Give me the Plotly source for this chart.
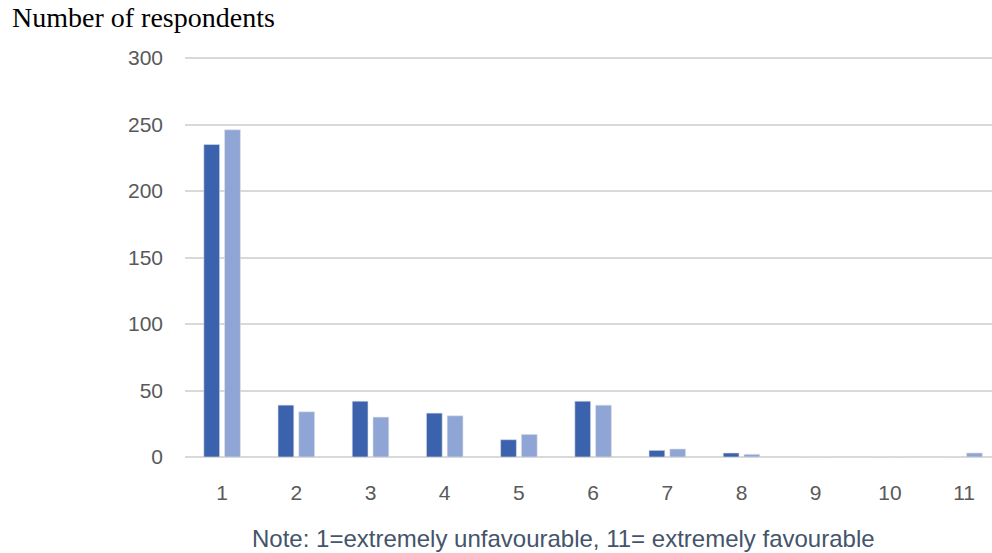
import plotly.graph_objects as go

categories = [1, 2, 3, 4, 5, 6, 7, 8, 9, 10, 11]
series_a = [235, 39, 42, 33, 13, 42, 5, 3, 0, 0, 0]
series_b = [246, 34, 30, 31, 17, 39, 6, 2, 0, 0, 3]
y_ticks = [0, 50, 100, 150, 200, 250, 300]

W, H = 992, 553
L, R, T, B = 185, 0, 55, 96
PW, PH = W - L - R, H - T - B
PX_PER_UNIT = 1.33

fig = go.Figure()
fig.add_trace(go.Bar(x=categories, y=series_a, marker=dict(color="#3B63AD", line=dict(color="#E0E0E0", width=0.6)), showlegend=False))
fig.add_trace(go.Bar(x=categories, y=series_b, marker=dict(color="#8FA5D5", line=dict(color="#E0E0E0", width=0.6)), showlegend=False))

fig.update_layout(
    width=W, height=H,
    margin=dict(l=L, r=R, t=T, b=B),
    paper_bgcolor="white", plot_bgcolor="white",
    barmode="group", bargap=0.44, bargroupgap=0.24,
    xaxis=dict(
        range=[0.5, 0.5 + PW / 74.2], tickmode="array", tickvals=categories,
        ticktext=[str(c) for c in categories],
        tickfont=dict(family="Liberation Sans, Arial", size=21, color="#595959"),
        showgrid=False, zeroline=False, showline=False,
        ticklabelstandoff=21,
    ),
    yaxis=dict(
        range=[0, PH / PX_PER_UNIT], tickmode="array", tickvals=y_ticks,
        tickfont=dict(family="Liberation Sans, Arial", size=21, color="#595959"),
        showgrid=True, gridcolor="#D9D9D9", gridwidth=1.5,
        zeroline=True, zerolinecolor="#D9D9D9", zerolinewidth=1.5,
        ticklabelstandoff=21,
    ),
    annotations=[
        dict(text="Number of respondents", xref="paper", yref="paper",
             x=(10 - L) / PW, y=1 + (T - 18) / PH, xanchor="left", yanchor="middle",
             showarrow=False,
             font=dict(family="Liberation Serif, Times New Roman", size=28, color="black")),
        dict(text="Note: 1=extremely unfavourable, 11= extremely favourable", xref="paper", yref="paper",
             x=(563 - L) / PW, y=-(538 - (H - B)) / PH, xanchor="center", yanchor="middle",
             showarrow=False,
             font=dict(family="Liberation Sans, Arial", size=24, color="#44546A")),
    ],
)
fig.write_html("out.html", config={"displayModeBar": False},
               post_script="document.body.style.margin='0';document.body.style.overflow='hidden';")
